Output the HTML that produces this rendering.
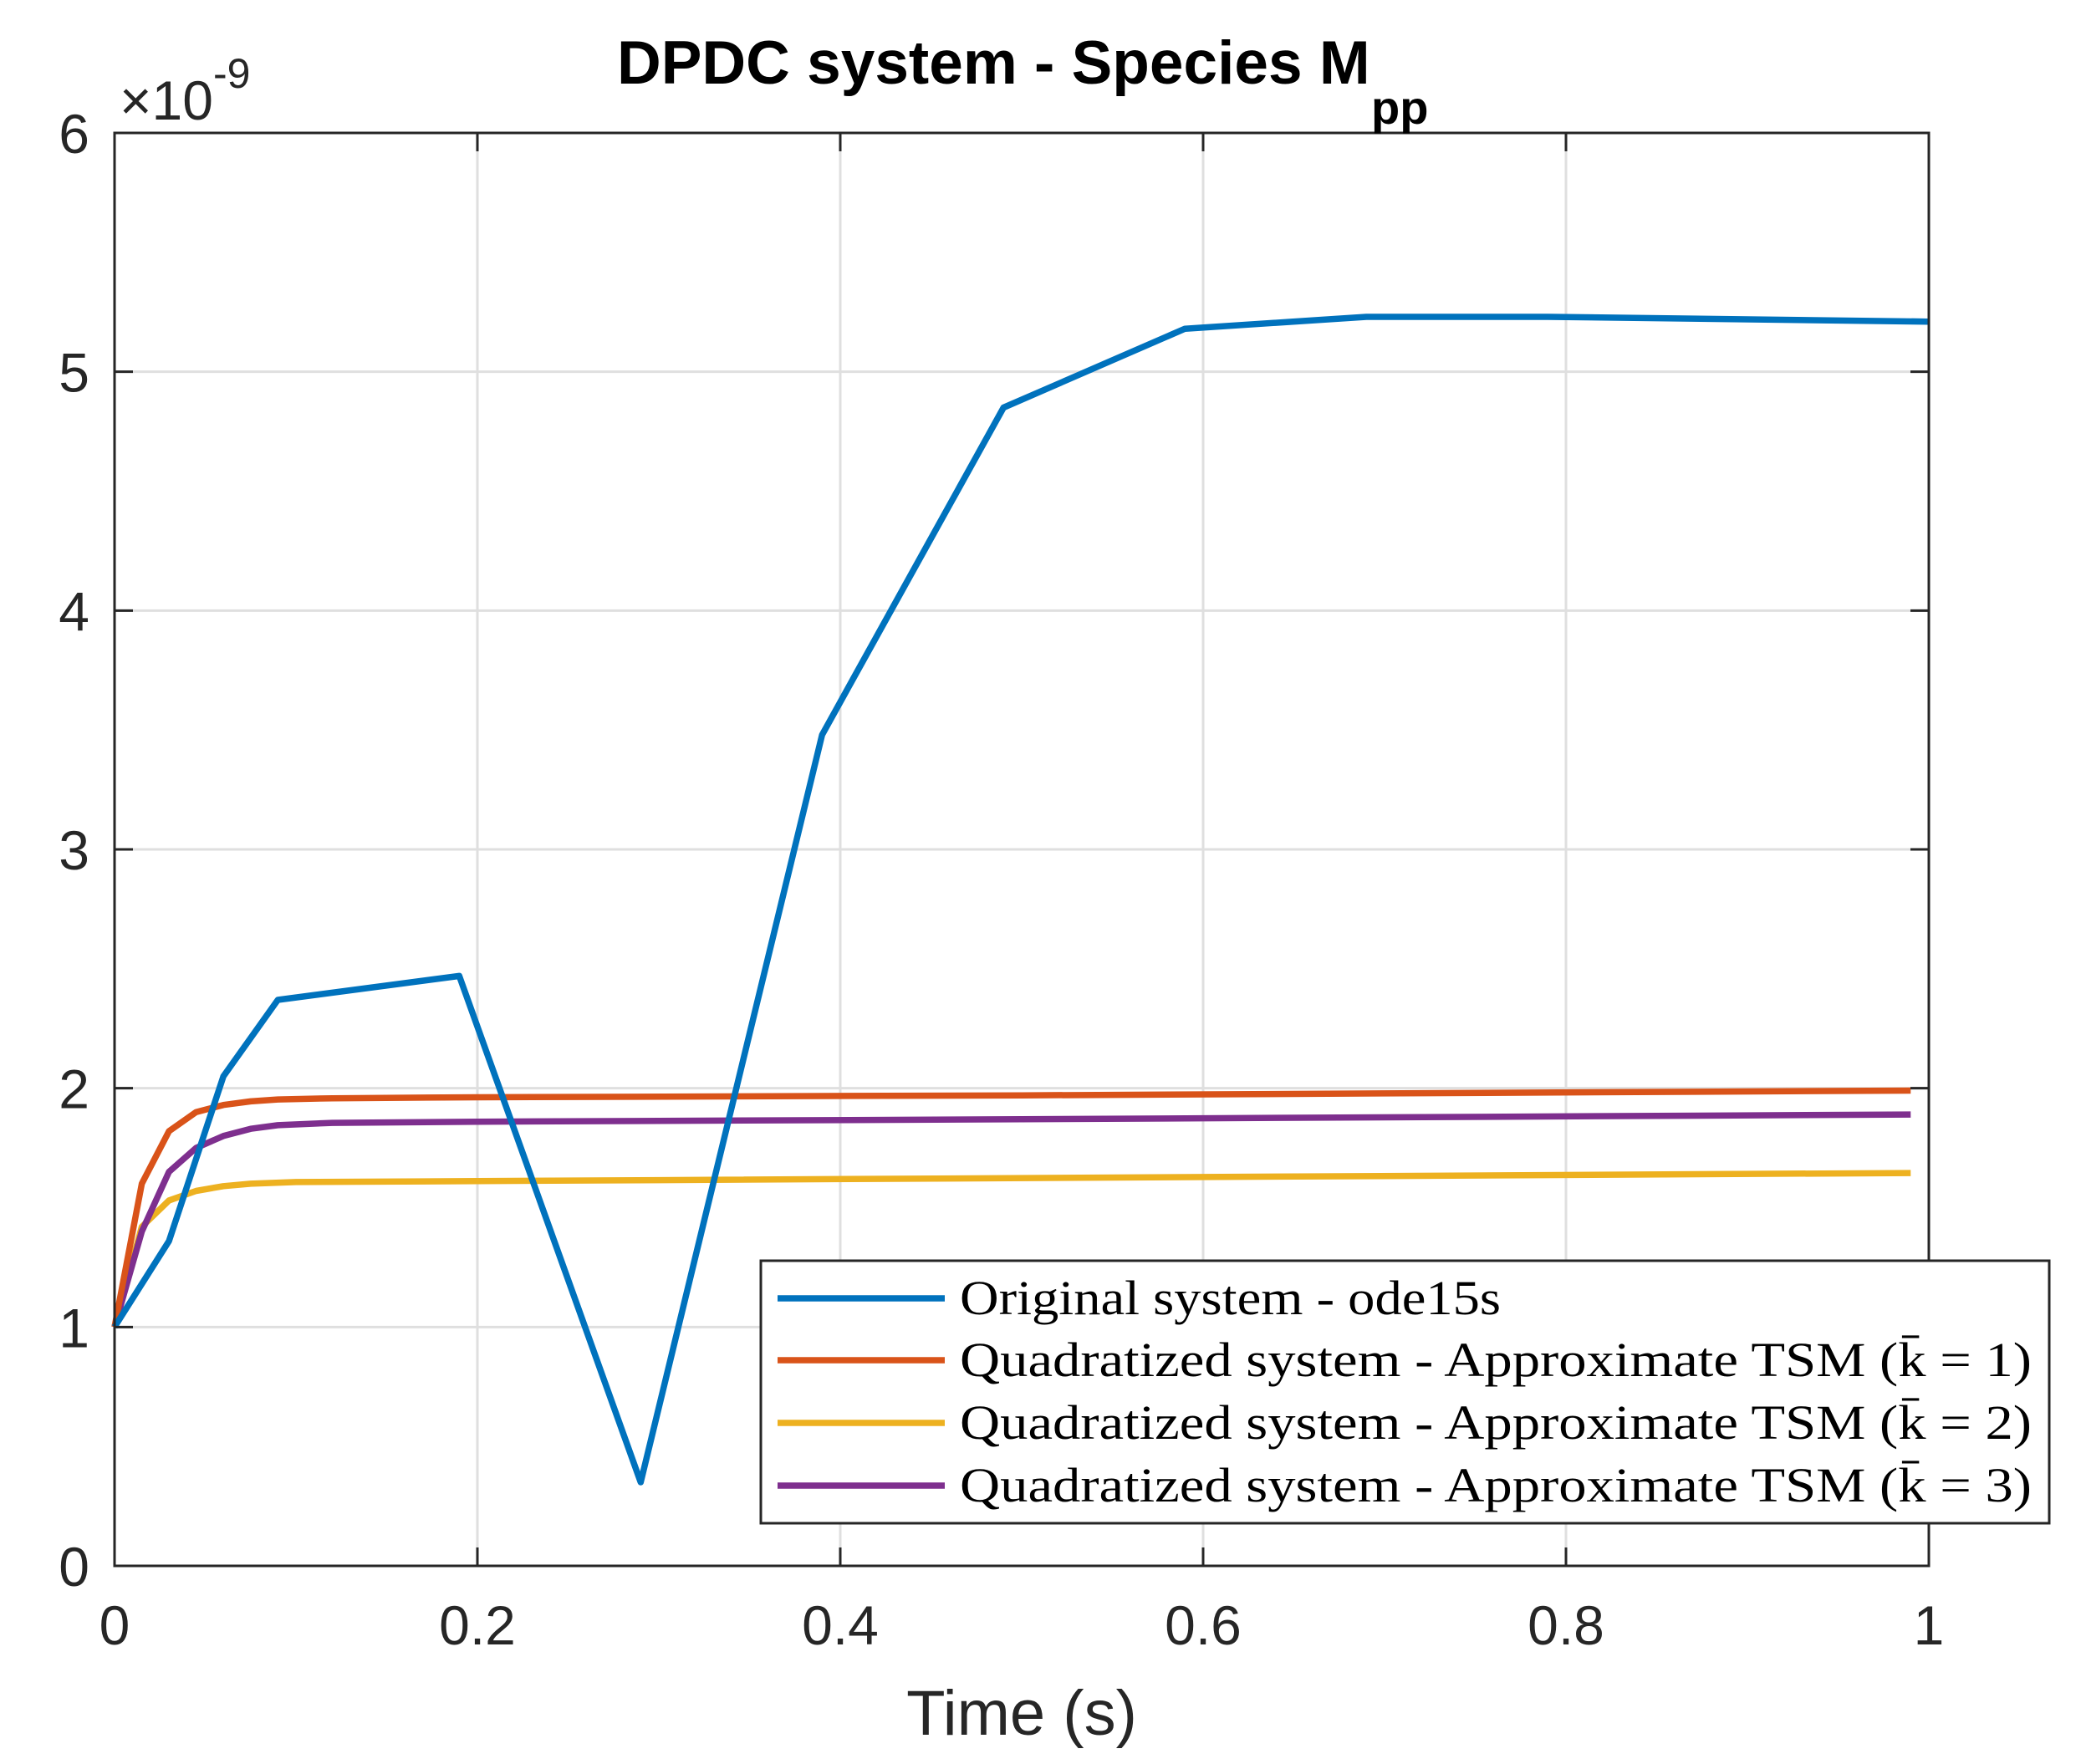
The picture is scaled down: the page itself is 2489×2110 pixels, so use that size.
<!DOCTYPE html>
<html><head><meta charset="utf-8"><style>
html,body{margin:0;padding:0;background:#fff;}
svg{display:block;}
</style></head><body>
<svg id="chart" width="2489" height="2110" viewBox="0 0 2489 2110" xmlns="http://www.w3.org/2000/svg">
<g id="grid"></g>
<g id="series"></g>
<g id="axes"></g>
<text x="738" y="100" font-family="Liberation Sans, sans-serif" font-weight="bold" font-size="73">DPDC system - Species M</text>
<text x="1640" y="148" font-family="Liberation Sans, sans-serif" font-weight="bold" font-size="56">pp</text>
<text x="143" y="143" font-family="Liberation Sans, sans-serif" font-size="66" fill="#262626">×10<tspan font-size="50" dy="-38">-9</tspan></text>
<text x="1222" y="2075" text-anchor="middle" font-family="Liberation Sans, sans-serif" font-size="76" fill="#262626">Time (s)</text>
<g id="legend">
<rect x="910" y="1508" width="1541" height="314" fill="#fff" stroke="#262626" stroke-width="3"/>
</g>
</svg>
<script>
const xTicks = [0, 0.2, 0.4, 0.6, 0.8, 1];
const xTickLabels = ["0", "0.2", "0.4", "0.6", "0.8", "1"];
const yTicks = [0, 1, 2, 3, 4, 5, 6];
const yTickLabels = ["0", "1", "2", "3", "4", "5", "6"];
const seriesNames = ["Original system - ode15s", "Quadratized system - Approximate TSM (k\u0304 = 1)", "Quadratized system - Approximate TSM (k\u0304 = 2)", "Quadratized system - Approximate TSM (k\u0304 = 3)"];
const blueX = [0, 0.03, 0.06, 0.09, 0.19, 0.29, 0.39, 0.49, 0.59, 0.69, 0.79, 1.0];
const blueY = [1, 1.36, 2.05, 2.37, 2.47, 0.35, 3.48, 4.85, 5.18, 5.23, 5.23, 5.21];
const orangeX = [0, 0.015, 0.03, 0.045, 0.06, 0.075, 0.09, 0.12, 0.2, 0.5, 0.99];
const orangeY = [1, 1.6, 1.82, 1.9, 1.93, 1.945, 1.953, 1.958, 1.962, 1.97, 1.99];
const yellowX = [0, 0.015, 0.03, 0.045, 0.06, 0.075, 0.1, 0.3, 0.99];
const yellowY = [1, 1.42, 1.53, 1.57, 1.59, 1.6, 1.607, 1.615, 1.645];
const purpleX = [0, 0.015, 0.03, 0.045, 0.06, 0.075, 0.09, 0.12, 0.2, 0.5, 0.99];
const purpleY = [1, 1.4, 1.65, 1.75, 1.8, 1.83, 1.845, 1.855, 1.86, 1.87, 1.89];

const NS = "http://www.w3.org/2000/svg";
const X0 = 137, X1 = 2307, Y0 = 1873, Y1 = 159;
function sx(v){ return X0 + (v - 0) / (1 - 0) * (X1 - X0); }
function sy(v){ return Y0 - (v - 0) / (6 - 0) * (Y0 - Y1); }
function mk(tag, attrs){ const e = document.createElementNS(NS, tag); for (const k in attrs) e.setAttribute(k, attrs[k]); return e; }

const grid = document.getElementById('grid');
const axes = document.getElementById('axes');
xTicks.forEach((t, i) => {
  const g = mk('line', {x1: sx(t), x2: sx(t), y1: Y1, y2: Y0, stroke: '#dfdfdf', 'stroke-width': 3});
  
  
  grid.appendChild(g);
  [[Y0, Y0 - 22], [Y1, Y1 + 22]].forEach(p => {
    const tk = mk('line', {x1: sx(t), x2: sx(t), y1: p[0], y2: p[1], stroke: '#262626', 'stroke-width': 3});
    
    
    axes.appendChild(tk);
  });
  const lb = mk('text', {x: sx(t), y: 1967, 'text-anchor': 'middle', 'font-family': 'Liberation Sans, sans-serif', 'font-size': 66, fill: '#262626'});
  lb.textContent = xTickLabels[i];
  
  
  axes.appendChild(lb);
});
yTicks.forEach((t, i) => {
  const g = mk('line', {x1: X0, x2: X1, y1: sy(t), y2: sy(t), stroke: '#dfdfdf', 'stroke-width': 3});
  
  
  grid.appendChild(g);
  [[X0, X0 + 22], [X1, X1 - 22]].forEach(p => {
    const tk = mk('line', {x1: p[0], x2: p[1], y1: sy(t), y2: sy(t), stroke: '#262626', 'stroke-width': 3});
    
    
    axes.appendChild(tk);
  });
  const lb = mk('text', {x: 107, y: sy(t) + 24, 'text-anchor': 'end', 'font-family': 'Liberation Sans, sans-serif', 'font-size': 66, fill: '#262626'});
  lb.textContent = yTickLabels[i];
  
  
  axes.appendChild(lb);
});
const box = mk('rect', {x: X0, y: Y1, width: X1 - X0, height: Y0 - Y1, fill: 'none', stroke: '#262626', 'stroke-width': 3});


axes.appendChild(box);

const seriesG = document.getElementById('series');
const all = [[blueX, blueY, '#0072bd', 'series-original'], [orangeX, orangeY, '#d95319', 'series-k1'], [yellowX, yellowY, '#edb120', 'series-k2'], [purpleX, purpleY, '#7e2f8e', 'series-k3']];
const order = [2, 3, 1, 0];
order.forEach(j => {
  const s = all[j];
  const pts = s[0].map((x, i) => sx(x).toFixed(1) + ',' + sy(s[1][i]).toFixed(1)).join(' ');
  const pl = mk('polyline', {points: pts, fill: 'none', stroke: s[2], 'stroke-width': 7.5, 'stroke-linejoin': 'round'});
  
  
  seriesG.appendChild(pl);
});

const legend = document.getElementById('legend');
const rowY = [1553, 1627, 1702, 1777];
all.forEach((s, i) => {
  const ln = mk('line', {x1: 930, x2: 1130, y1: rowY[i], y2: rowY[i], stroke: s[2], 'stroke-width': 7.5});
  
  
  legend.appendChild(ln);
  const tx = mk('text', {x: 1148, y: rowY[i] + 19, 'font-family': 'Liberation Serif, serif', 'font-size': 58, fill: '#000'});
  if (i > 0) { tx.setAttribute('textLength', 1282); tx.setAttribute('lengthAdjust', 'spacingAndGlyphs'); }
  else { tx.setAttribute('textLength', 647); tx.setAttribute('lengthAdjust', 'spacingAndGlyphs'); }
  tx.textContent = seriesNames[i];
  
  
  legend.appendChild(tx);
});
</script>
</body></html>
